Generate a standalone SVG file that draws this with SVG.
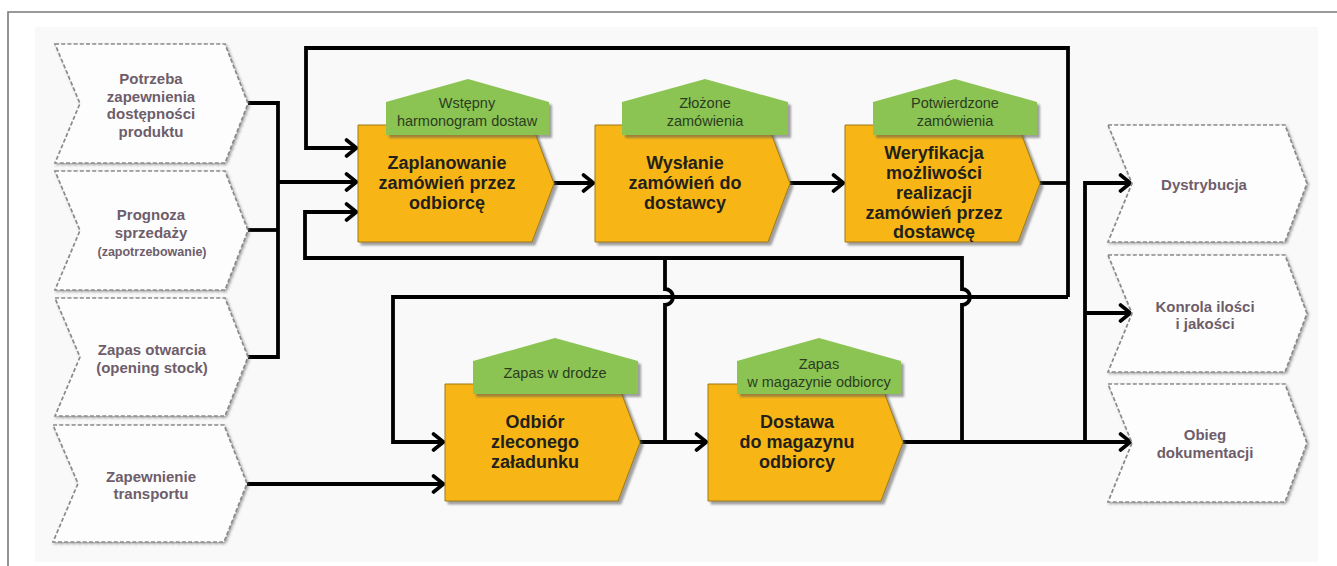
<svg xmlns="http://www.w3.org/2000/svg" width="1337" height="566" viewBox="0 0 1337 566">
<defs>
<style>
.frame{stroke:#7a7a7a;stroke-width:1.6;fill:none}
.chev{fill:#fdfdfd;stroke:#8a8a8a;stroke-width:1.7;stroke-dasharray:4 2.2;filter:url(#shs)}
.box{fill:#f8b617;stroke:#9c7a14;stroke-width:1;filter:url(#sh)}
.lab{fill:#8cc453;filter:url(#sh)}
.ct{font-family:"Liberation Sans",Arial,sans-serif;font-weight:bold;font-size:15px;fill:#6e5d6b;text-anchor:middle}
.cts{font-size:12.5px}
.bt{font-family:"Liberation Sans",Arial,sans-serif;font-weight:bold;font-size:18px;fill:#231f1a;text-anchor:middle}
.gt{font-family:"Liberation Sans",Arial,sans-serif;font-size:14.5px;fill:#2a3d1f;text-anchor:middle}
.ln{fill:none;stroke:#000;stroke-width:3.8;stroke-linejoin:miter}
.ar{marker-end:url(#ah)}
</style>
<filter id="sh" x="-5%" y="-5%" width="115%" height="125%"><feDropShadow dx="3" dy="3" stdDeviation="1.2" flood-color="#555" flood-opacity="0.55"/></filter>
<filter id="shs" x="-5%" y="-5%" width="115%" height="125%"><feDropShadow dx="1.5" dy="1.5" stdDeviation="0.8" flood-color="#555" flood-opacity="0.5"/></filter>
<marker id="ah" viewBox="0 0 16 20" refX="13.5" refY="10" markerWidth="16" markerHeight="20" markerUnits="userSpaceOnUse" orient="auto">
<path d="M3,2 L13,10 L3,18" fill="none" stroke="#000" stroke-width="3.6" stroke-linecap="round"/>
</marker>
</defs>
<rect x="0" y="0" width="1337" height="566" fill="#ffffff"/>
<rect x="35" y="27" width="1283" height="535" fill="#f9f9f9"/>
<path class="frame" d="M8,566 V12 H1337"/>

<g id="connectors">
<path class="ln" d="M248,103 H278 V357 H248"/>
<path class="ln" d="M248,230 H278"/>
<path class="ln ar" d="M278,182 H357"/>
<path class="ln ar" d="M247,484 H444"/>
<path class="ln ar" d="M554,183 H594"/>
<path class="ln ar" d="M790,183 H844"/>
<path class="ln" d="M1040,183 H1068"/>
<path class="ln ar" d="M1068,297 V48 H306 V148 H357"/>
<path class="ln ar" d="M1068,297 H393 V442 H444"/>
<path class="ln ar" d="M962,442 V305 A8,8 0 0 0 962,289 V258 H305 V212 H357"/>
<path class="ln" d="M665,442 V305 A8,8 0 0 0 665,289 V258"/>
<path class="ln ar" d="M640,442 H707"/>
<path class="ln ar" d="M903,442 H1131"/>
<path class="ln ar" d="M1085,442 V183 H1131"/>
<path class="ln ar" d="M1085,313 H1131"/>
</g>

<g id="n-potrzeba">
<path class="chev" d="M55,44 H225 L248,103.5 L225,163 H55 L80,103.5 Z"/>
<text class="ct" x="151" y="84">Potrzeba</text>
<text class="ct" x="151" y="101.5">zapewnienia</text>
<text class="ct" x="151" y="119">dostępności</text>
<text class="ct" x="151" y="136.5">produktu</text>
</g>
<g id="n-prognoza">
<path class="chev" d="M55,171 H225 L248,230.5 L225,290 H55 L80,230.5 Z"/>
<text class="ct" x="151" y="220">Prognoza</text>
<text class="ct" x="151" y="238">sprzedaży</text>
<text class="ct cts" x="152" y="256">(zapotrzebowanie)</text>
</g>
<g id="n-zapas-otwarcia">
<path class="chev" d="M55,298 H225 L248,357 L225,416 H55 L80,357 Z"/>
<text class="ct" x="152" y="355">Zapas otwarcia</text>
<text class="ct" x="152" y="372.5">(opening stock)</text>
</g>
<g id="n-transport">
<path class="chev" d="M53,425 H224 L247,483.5 L224,542 H53 L78,483.5 Z"/>
<text class="ct" x="151" y="482">Zapewnienie</text>
<text class="ct" x="151" y="499">transportu</text>
</g>

<g id="n-zaplanowanie">
<path class="box" d="M358,125 H532 L554,183.5 L532,242 H358 Z"/>
<path class="lab" d="M386,135 V102 L468,79 L549,102 V135 Z"/>
<text class="gt" x="467" y="108">Wstępny</text>
<text class="gt" x="467" y="126">harmonogram dostaw</text>
<text class="bt" x="447" y="169">Zaplanowanie</text>
<text class="bt" x="447" y="189">zamówień przez</text>
<text class="bt" x="447" y="209">odbiorcę</text>
</g>
<g id="n-wyslanie">
<path class="box" d="M595,125 H768 L790,183.5 L768,242 H595 Z"/>
<path class="lab" d="M622,135 V102 L705,79 L788,102 V135 Z"/>
<text class="gt" x="705" y="108">Złożone</text>
<text class="gt" x="705" y="126">zamówienia</text>
<text class="bt" x="685" y="169">Wysłanie</text>
<text class="bt" x="685" y="189">zamówień do</text>
<text class="bt" x="685" y="209">dostawcy</text>
</g>
<g id="n-weryfikacja">
<path class="box" d="M845,125 H1018 L1040,183.5 L1018,242 H845 Z"/>
<path class="lab" d="M873,135 V102 L955,79 L1037,102 V135 Z"/>
<text class="gt" x="955" y="108">Potwierdzone</text>
<text class="gt" x="955" y="126">zamówienia</text>
<text class="bt" x="934" y="159">Weryfikacja</text>
<text class="bt" x="934" y="179">możliwości</text>
<text class="bt" x="934" y="199">realizacji</text>
<text class="bt" x="934" y="219">zamówień przez</text>
<text class="bt" x="934" y="238">dostawcę</text>
</g>
<g id="n-odbior">
<path class="box" d="M445,384 H618 L640,442.5 L618,501 H445 Z"/>
<path class="lab" d="M473,394 V361 L555,338 L638,361 V394 Z"/>
<text class="gt" x="555" y="378">Zapas w drodze</text>
<text class="bt" x="535" y="428">Odbiór</text>
<text class="bt" x="535" y="448">zleconego</text>
<text class="bt" x="535" y="468">załadunku</text>
</g>
<g id="n-dostawa">
<path class="box" d="M708,384 H881 L903,442.5 L881,501 H708 Z"/>
<path class="lab" d="M737,394 V361 L819,338 L901,361 V394 Z"/>
<text class="gt" x="819" y="369">Zapas</text>
<text class="gt" x="819" y="387">w magazynie odbiorcy</text>
<text class="bt" x="797" y="428">Dostawa</text>
<text class="bt" x="797" y="448">do magazynu</text>
<text class="bt" x="797" y="468">odbiorcy</text>
</g>

<g id="n-dystrybucja">
<path class="chev" d="M1108,125 H1285 L1307,183.5 L1285,242 H1108 L1132,183.5 Z"/>
<text class="ct" x="1204" y="190">Dystrybucja</text>
</g>
<g id="n-kontrola">
<path class="chev" d="M1108,255 H1285 L1307,313.5 L1285,372 H1108 L1132,313.5 Z"/>
<text class="ct" x="1205" y="312">Konrola ilości</text>
<text class="ct" x="1205" y="329">i jakości</text>
</g>
<g id="n-obieg">
<path class="chev" d="M1108,384 H1285 L1307,443 L1285,502 H1108 L1132,443 Z"/>
<text class="ct" x="1205" y="440">Obieg</text>
<text class="ct" x="1205" y="458">dokumentacji</text>
</g>
</svg>
